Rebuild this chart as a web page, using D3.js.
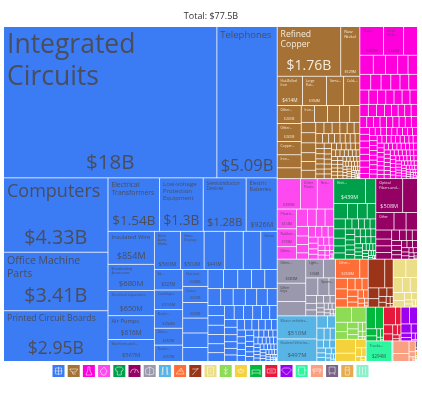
<!DOCTYPE html>
<html><head><meta charset="utf-8">
<script src="https://cdn.jsdelivr.net/npm/d3@7/dist/d3.min.js"></script>
<style>html,body{margin:0;padding:0;background:#fff}svg{display:block;filter:blur(0.3px)}text{font-family:"Open Sans",sans-serif}</style>
</head><body><svg id="c" width="422" height="395"></svg>
<script>
const totalLabel = "Total: $77.5B";
const sectorNames = ["Machines","Metals","Chemicals","Plastics","Textiles","Instruments","Miscellaneous","Transportation","Stone","Minerals","Paper","Vegetables","Foodstuffs","Furniture","Money","Precious","Footwear","Animal","Arts","Weapons","Wood"];
const sectorColors = ["#3b7cf5","#a57134","#ff00dc","#ff49f0","#00a04b","#940064","#9a98ac","#59b4e6","#ff6e37","#9b3419","#ebde87","#8cdc55","#f5d23c","#00b93c","#e6193c","#9b00f0","#2df5a0","#faa082","#786487","#e6aa50","#8cf0c8"];
const sectorInk = ["#4a4d5c","#f4ece0","#6a3a6a","#6a4070","#e8f6ee","#f0dcea","#45454f","#3f5a6c","#f8e8e0","#fff","#555","#555","#555","#fff","#fff","#fff","#3c5a50","#555","#fff","#fff","#555"];

const machinesValues = [18000,5090,4330,3410,2950,1540,1300,1280,926,854,680,650,616,567,560,502,441,395,375,350,323,310,294,267,257,236,227,220,210,205,195,165,152,147,140,132,121,118,115,108,100,94,92,88,86,84,82,80,76,72,72,68,64,58,55,53,50,47,47,46,44,42,40,38,36,34,32,30,30,28,28,26,26,24,24,22,22,20,20,18,18,17,16,16,15,14,14,14,13,13,12,12,12,12,11,11,10,10,10,10,9,9,8,8,7,7,6,6,5,5,4,4,3,3,2,2,1,1,1,1];
const machinesTexts = [["Integrated\nCircuits","$18B"],["Telephones","$5.09B"],["Computers","$4.33B"],["Office Machine\nParts","$3.41B"],["Printed Circuit Boards","$2.95B"],["Electrical\nTransformers","$1.54B"],["Low-voltage\nProtection\nEquipment","$1.3B"],["Semiconductor\nDevices","$1.28B"],["Electric\nBatteries","$926M"],["Insulated Wire","$854M"],["Broadcasting\nAccessories","$680M"],["Electrical Capacitors","$650M"],["Air Pumps","$616M"],["Machines and...","$567M"],["Blank\nAudio\nMedia","$560M"],["Video\nDisplays","$502M"],["","$441M"],["",""],["",""],["Valves",""],["Air...","$323M"],["Centrifuges","$310M"],["Electric...","$294M"],["Other...","$267M"],["Electric...","$257M"],["Electrical...","$236M"],["Cranes","$227M"],["","$220M"]];
const metalsValues = [1760,529,414,394,280,265,241,241,178,175,145,124,122,112,96,95,84,82,80,72,70,68,52,51,49,46,44,36,35,33,31,29,27,26,26,25,25,25,24,24,24,23,22,22,22,21,20,20,20,19,19,18,18,18,17,17,16,16,16,15,15,14,14,14,13,13,13,12,12,12,11,11,11,10,10,10,9,9,9,8,8,8,8,8,8,7,7,7,7,7,7,6,6,6,6,5,5,5,5,4,4,4,4,3,3,3,3,2,2,2,2,1,1];
const metalsTexts = [["Refined\nCopper","$1.76B"],["Raw\nNickel","$529M"],["Hot-Rolled\nIron","$414M"],["Large\nFlat...","$394M"],["Semi-...",""],["Cold-...",""],["Other...","$241M"],["Other...","$241M"],["Copper...",""],["Iron...",""],["",""],["Iron...",""]];
const chemicalsValues = [380,320,220,143,130,130,110,100,95,90,85,80,77,75,72,70,66,66,65,63,60,58,56,55,47,46,45,44,43,42,41,40,39,39,38,38,37,37,36,36,36,35,35,34,34,27,26,25,25,24,24,24,23,22,22,22,21,21,21,21,20,20,20,20,20,20,19,19,19,19,18,18,18,18,18,18,17,17,17,17,16,16,16,16,16,16,15,15,15,15,14,14,14,14,14,14,13,13,13,13,12,12,12,12,12,12,12,11,11,11,11,10,10,10,10,10,10,9,9,9,9,8,8,8,8,8,8,7,7,7,7,7,6,6,6,6,5,5,5,5,4,4,4,4,3,3,3,3,2,2];
const chemicalsTexts = [["Gloss...","$380M"],["Dried\nMalic...","$320M"]];
const plasticsValues = [395,285,280,214,193,135,105,85,85,84,64,57,56,42,42,38,38,34,32,30,28,26,26,24,22,20,18,16,14,12,12,10,8,6,4,2];
const plasticsTexts = [["","$395M"],["Other\nPlastic",""],["Raw...",""],["Plastic...","$214M"],["Rubber...","$193M"],["Other...",""]];
const textilesValues = [439,144,118,85,84,74,64,60,50,45,40,37,36,33,32,32,30,28,27,26,25,24,24,23,23,22,22,21,20,19,18,17,16,15,14,13,12,11,10,10,9,8,7,6,5,4,3,2,1];
const textilesTexts = [["Knit...","$439M"]];
const instrumentsValues = [508,278,178,118,111,80,60,60,58,45,40,35,30,28,26,24,24,22,22,20,18,16,14,12,12,10,8,6,4,2];
const instrumentsTexts = [["Optical\nFibers and...","$508M"],["",""],["Other",""]];
const miscValues = [383,293,228,184,128,118,108,65,48,40,36,30,28,24,20,18,16,14,13,12,12,10,8,6,4,2];
const miscTexts = [["Other...","$383M"],["Other\nkeys",""],["",""],["Light...","$184M"],["",""],["",""],["Sports...",""]];
const transportValues = [510,497,72,56,48,40,36,30,28,26,24,22,20,18,14,12,10,8,6,4,2];
const transportTexts = [["Motor vehicles...","$510M"],["Bi-wheel Vehicles...","$497M"]];
const stoneValues = [258,90,70,65,55,50,45,40,38,34,30,26,22,18,14,10,6,2,1];
const stoneTexts = [["Other...","$258M"]];
const mineralsValues = [265,135,64,50,38,30,24,20,16,12,8,4,2];
const paperValues = [130,118,76,66,60,50,42,30,24,18,14,10,6,3,2];
const vegetablesValues = [134,124,62,50,40,35,28,22,18,14,10,6,4,2];
const foodValues = [155,92,50,30,22,14,8,4,2];
const furnitureValues = [112,98,42,30,18,14,8,4,2];
const moneyValues = [118,54,46,36,26,20,14,8,4,2];
const preciousValues = [80,74,52,32,26,20,14,8,4];
const footwearValues = [294,8,3,1];
const footwearTexts = [["Trucks...","$294M"]];
const animalValues = [114,70,38,18,10,4,2];
const artsValues = [8,3,1];
const weaponsValues = [5,2];
const woodValues = [3,1,1];

const sectorValues = [machinesValues,metalsValues,chemicalsValues,plasticsValues,textilesValues,instrumentsValues,miscValues,transportValues,stoneValues,mineralsValues,paperValues,vegetablesValues,foodValues,furnitureValues,moneyValues,preciousValues,footwearValues,animalValues,artsValues,weaponsValues,woodValues];
const sectorTexts = [machinesTexts,metalsTexts,chemicalsTexts,plasticsTexts,textilesTexts,instrumentsTexts,miscTexts,transportTexts,stoneTexts,[],[],[],[],[],[],[],footwearTexts,[],[],[],[]];

// text sizes [name, value] per labelled cell, per sector
const S = {
 0:[[26.5,20.5],[9.5,16.5],[18,19.8],[10.5,19.8],[8.7,17.5],[6.8,13.5],[6,13.7],[4.7,11],[5.2,7.2],[5.8,9],[3.4,7.8],[3.7,7.2],[5.8,6.6],[3.6,5.7],[3.3,5.6],[3.3,5],[3,4.5],[3,3],[3,3],[3.4,3],[3,4.4],[3,4.2],[3,4],[3,3.6],[3,3.5],[3,3.3],[3,3.2],[3,3.2]],
 1:[[8.6,14],[4.3,3.6],[3.3,4.8],[3.3,3.4],[3.3,3],[3.3,3],[3.3,3.2],[3.3,3.2],[3.3,3],[3.3,3],[3,3],[3.3,3]],
 2:[[3.2,3.6],[3.2,3.4]],
 3:[[3.2,3.6],[3.4,3],[3.2,3],[3.6,3.2],[3.6,3.2],[3.2,3]],
 4:[[3.6,5.4]],
 5:[[3.6,5.6],[3,3],[3.2,3]],
 6:[[3.2,3.8],[3.2,3],[3,3],[3.2,3],[3,3],[3,3],[3.2,3]],
 7:[[3.6,6],[3.3,6]],
 8:[[3.2,4]],
 16:[[3.6,4.4]]
};

const svg = d3.select("#c");
const rootData = {children: sectorNames.map((name,i)=>({name, s:i, children: sectorValues[i].map((v,j)=>({value:v, s:i, j}))}))};
const root = d3.hierarchy(rootData).sum(d=>d.value||0).sort((a,b)=>b.value-a.value);
d3.treemap().tile(d3.treemapSquarify).size([413,334]).paddingInner(0.8).round(false)(root);

svg.append("text").attr("x",211).attr("y",19).attr("text-anchor","middle").attr("font-size",9).attr("fill","#333").text(totalLabel);

const plot = svg.append("g").attr("transform","translate(4,27)");
const leaves = root.leaves();
plot.append("g").selectAll("rect").data(leaves).join("rect")
 .attr("x",d=>d.x0).attr("y",d=>d.y0)
 .attr("width",d=>Math.max(0,d.x1-d.x0)).attr("height",d=>Math.max(0,d.y1-d.y0))
 .attr("fill",d=>sectorColors[d.data.s]);

const labels = plot.append("g");
leaves.forEach(d=>{
  const t = (sectorTexts[d.data.s]||[])[d.data.j];
  if(!t) return;
  const size = (S[d.data.s]||[])[d.data.j]||[3,3];
  const ink = sectorInk[d.data.s];
  if(t[0]){
    const nameText = labels.append("text").attr("font-size",size[0]).attr("fill",ink);
    t[0].split("\n").forEach((ln,k)=>{
      nameText.append("tspan").attr("x",d.x0+3).attr("y",d.y0+2+size[0]*0.92+size[0]*1.2*k).text(ln);
    });
  }
  if(t[1]) labels.append("text").attr("x",(d.x0+d.x1)/2).attr("y",d.y1-2-size[1]*0.3)
      .attr("text-anchor","middle").attr("font-size",size[1]).attr("fill",ink).text(t[1]);
});

// legend
const legendX = d3.scalePoint().domain(sectorNames).range([58.5,362.5]);
const glyphs = ["M3 3h6v6h-6zM6 2v8M2 6h8","M2 4h8l-2 3h-4zM5 7v2h3","M5 2h2v3l2 5h-6l2-5z","M6 2l3 4-2 4h-3l-2-4z","M4 2h4l2 2-1 2h-1v4h-4v-4h-1l-1-2z","M2 8a4 4 0 0 1 8 0M6 8l1-3","M2 4l4-2 4 2v5l-4 1-4-1zM6 2v8","M4 2v8M8 2v8M3 10l1-8M9 10l-1-8","M2 9l5-6 3 6zM5 6h3","M3 10l6-7M3 4h6","M3 2h6v8h-6zM5 5h2M5 7h2","M6 2v8M4 4l2 2 2-2M4 7l2 2 2-2","M3 5a3 3 0 0 0 6 0zM6 3v2","M2 5h8v3h-8zM2 8v2M10 8v2","M2 4h8v4h-8zM4 6h4","M3 3h6l2 2-5 5-5-5z","M3 2h6v8h-6zM3 4l-1 2M9 4l1 2","M2 4h8v2h-8zM3 6v3M9 6v3","M3 2h6v6h-6zM4 8l-1 2M8 8l1 2","M4 2h4v8h-4zM4 5h4","M3 2v8M6 2v8M9 2v8"];
const lg = svg.append("g").selectAll("g").data(sectorNames).join("g").attr("transform",d=>`translate(${legendX(d)-6},365)`);
lg.append("rect").attr("width",12).attr("height",12).attr("fill",(d,i)=>sectorColors[i]);
lg.append("path").attr("d",(d,i)=>glyphs[i]).attr("fill","none").attr("stroke","#fff").attr("stroke-opacity",0.75).attr("stroke-width",0.7);
</script></body></html>
